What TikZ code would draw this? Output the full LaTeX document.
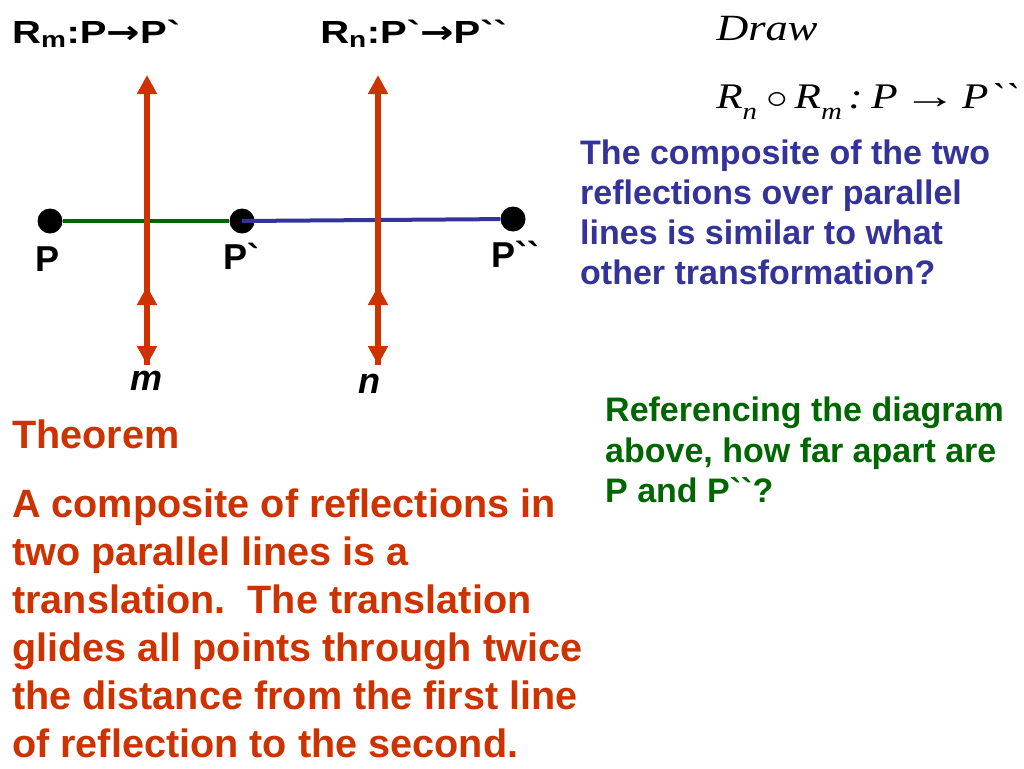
\documentclass[tikz,border=0pt]{standalone}
\usepackage{graphicx}
\usepackage{fontspec}
\setmainfont{Liberation Sans}[Ligatures=TeXOff]
\newfontfamily\seriffont{Liberation Serif}[Ligatures=TeXOff]
\newfontfamily\symfont{DejaVu Sans}
\usetikzlibrary{arrows.meta}
\definecolor{rust}{RGB}{204,51,0}
\definecolor{navy}{RGB}{51,51,153}
\definecolor{leaf}{RGB}{0,102,0}
\begin{document}
\begin{tikzpicture}[x=1pt,y=-1pt,
  dot/.style={circle,fill=black,minimum size=25pt,inner sep=0pt},
  mirrorline/.style={draw=rust,line width=6pt},
  tip/.tip={Triangle[width=19pt,length=19pt]},
  head/.style={font=\fontsize{32}{38}\selectfont\bfseries,inner sep=0pt,anchor=base west,xscale=1.25},
  ptlabel/.style={font=\fontsize{36}{40}\selectfont\bfseries,inner sep=0pt,anchor=base},
  linelabel/.style={font=\fontsize{36}{40}\selectfont\bfseries\itshape,inner sep=0pt,anchor=base},
  para/.style={inner sep=0pt,anchor=north west,align=left}]
\useasboundingbox[fill=white] (0,0) rectangle (1024,768);

% points
\node[dot] (P) at (50,221) {};
\node[dot] (P1) at (242,221) {};
\node[dot] (P2) at (513,219) {};
\draw[leaf,line width=4pt] (P) -- (P1);
\draw[navy,line width=4pt] (P1.center) -- (P2);

% lines of reflection
\coordinate (mtop) at (147,75);
\coordinate (mmid) at (147,286);
\coordinate (mbot) at (147,365);
\coordinate (ntop) at (378,75);
\coordinate (nmid) at (378,286);
\coordinate (nbot) at (378,365);
\draw[mirrorline,{tip}-{tip}] (mbot) -- (mtop);
\draw[mirrorline,-{tip}] (mbot) -- (mmid);
\draw[mirrorline,{tip}-{tip}] (nbot) -- (ntop);
\draw[mirrorline,-{tip}] (nbot) -- (nmid);

% labels
\node[ptlabel] (lP) at (48,271) {P};
\node[ptlabel] (lP1) at (241,269) {P`};
\node[ptlabel] (lP2) at (515,267) {P``};
\node[linelabel] (lm) at (147,390) {m};
\node[linelabel] (ln) at (369,393) {n};

\node[head] (hm) at (12,44) {R\textsubscript{m}:P{\symfont\bfseries →}P`};
\node[head] (hn) at (320,44) {R\textsubscript{n}:P`{\symfont\bfseries →}P``};

\node[inner sep=0pt,anchor=base west,xscale=1.2,font=\fontsize{37}{40}\selectfont\seriffont\itshape] (draw) at (716,41) {Draw};
\node[inner sep=0pt,anchor=base west,xscale=1.2,font=\fontsize{36}{40}\selectfont\seriffont\itshape] (formula) at (716,108)
  {R\raisebox{-0.33em}{\fontsize{24}{24}\selectfont n}\hspace{0.22em}\raisebox{-0.02em}{\scalebox{1.45}{$\circ$}}\hspace{0.15em}R\raisebox{-0.33em}{\fontsize{24}{24}\selectfont m}\hspace{0.15em}:\hspace{0.2em}P\hspace{0.12em}{\upshape\scalebox{1.25}[1]{→}}\hspace{0.12em}P``};

\node[para,text=navy,font=\fontsize{34}{40}\selectfont\bfseries] (question) at (580,140)
  {The composite of the two\\reflections over parallel\\lines is similar to what\\other transformation?};

\node[para,text=leaf,font=\fontsize{34}{40.5}\selectfont\bfseries] (distance) at (605,397)
  {Referencing the diagram\\above, how far apart are\\P and P``?};

\node[inner sep=0pt,anchor=base west,text=rust,font=\fontsize{39.6}{48}\selectfont\bfseries] (thm) at (12,448) {Theorem};
\node[para,text=rust,font=\fontsize{39.6}{48}\selectfont\bfseries] (thmtext) at (12,489)
  {A composite of reflections in\\two parallel lines is a\\translation.\ \ The translation\\glides all points through twice\\the distance from the first line\\of reflection to the second.};
\end{tikzpicture}
\end{document}
